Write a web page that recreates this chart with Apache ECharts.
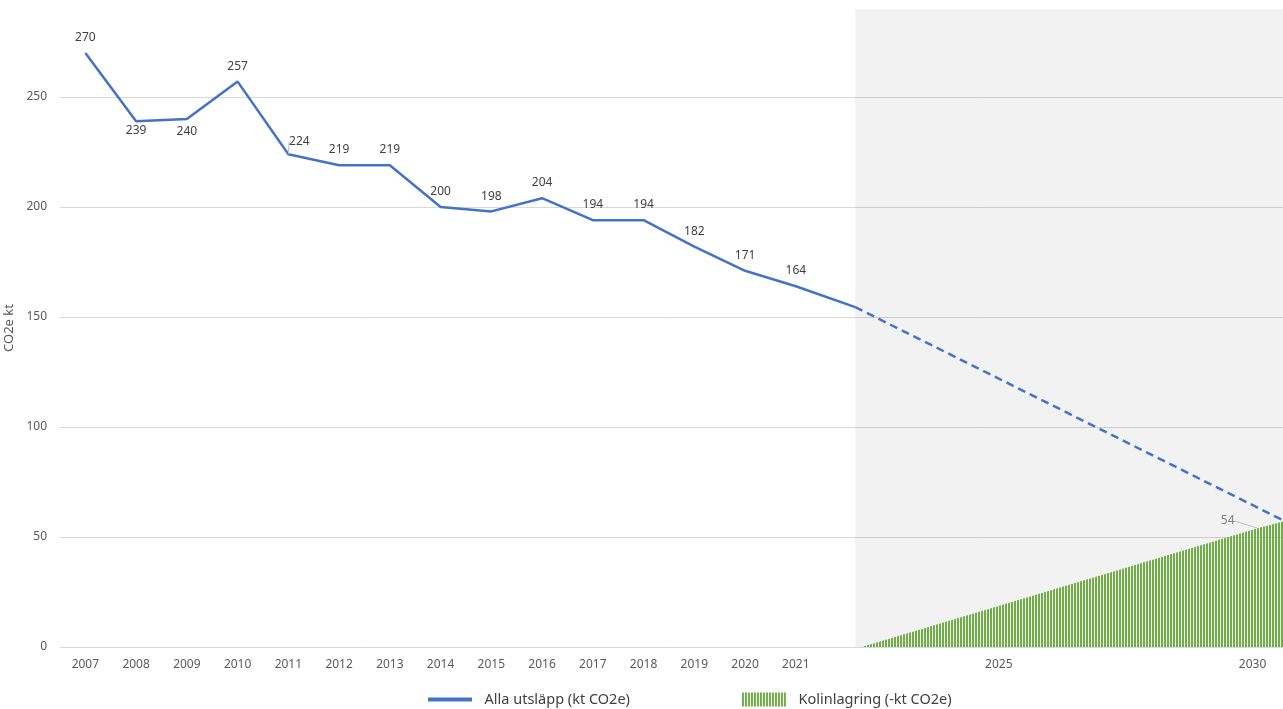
<!DOCTYPE html>
<html><head><meta charset="utf-8">
<script src="https://cdn.jsdelivr.net/npm/echarts@6/dist/echarts.min.js"></script>
<style>html,body{margin:0;padding:0;background:#fff}#c{width:1283px;height:709px}</style>
</head><body><div id="c"></div>
<script>
const years = [2007,2008,2009,2010,2011,2012,2013,2014,2015,2016,2017,2018,2019,2020,2021];
const emissions = [270,239,240,257,224,219,219,200,198,204,194,194,182,171,164];
const lastHistYear = 2022.17, lastHistValue = 154.5;
const projEndYear = 2030.6, projEndValue = 57.6;
const storageYears = [2022.3, 2030.1, 2030.6];
const storageValues = [0, 54, 57];
const xTickLabels = [2007,2008,2009,2010,2011,2012,2013,2014,2015,2016,2017,2018,2019,2020,2021,2025,2030];
const yTicks = [0,50,100,150,200,250];

const c = document.createElement('canvas');
c.width = 3; c.height = 4;
const cx = c.getContext('2d');
cx.fillStyle = '#70AD47'; cx.fillRect(0,0,2,4);
const stripes = {image: c, repeat: 'repeat'};

const font = 'Noto Sans, sans-serif';
const hist = years.map((y,i)=>{
  const d = {value:[y, emissions[i]]};
  if (y===2008) d.label = {position:'bottom', distance:3};
  if (y===2009) d.label = {position:'bottom', distance:6};
  if (y===2011) d.labelLine = {show:true};
  return d;
});
hist.push({value:[lastHistYear,lastHistValue], label:{show:false}});

const storage = storageYears.map((y,i)=>({value:[y,storageValues[i]], label:{show: y===2030.1}}));

const chart = echarts.init(document.getElementById('c'));
chart.setOption({
  animation:false,
  textStyle:{fontFamily:font},
  grid:{left:60,right:0,top:9,bottom:62, outerBoundsMode:'none'},
  legend:{
    left:423, top:687, itemGap:112, itemWidth:44, itemHeight:14,
    formatter: n => '  ' + n,
    textStyle:{fontSize:14.5,color:'#404040',fontFamily:font},
    data:[{name:'Alla utsläpp (kt CO2e)', icon:'path://M0,0 L44,0 L44,4 L0,4 Z', itemStyle:{color:'#4472C4'}},
          {name:'Kolinlagring (-kt CO2e)', icon:'rect', itemStyle:{color:stripes}}]
  },
  xAxis:{
    type:'value', min:2006.5, max:2030.6,
    axisLine:{show:false}, axisTick:{show:false}, splitLine:{show:false},
    axisLabel:{customValues:xTickLabels, color:'#595959', fontSize:12, margin:12, formatter:v=>String(v)}
  },
  yAxis:{
    type:'value', min:0, max:290, interval:50,
    name:'CO2e kt', nameLocation:'middle', nameGap:42, nameRotate:90,
    nameTextStyle:{color:'#595959',fontSize:13},
    axisLine:{show:false}, axisTick:{show:false},
    axisLabel:{color:'#595959',fontSize:12, margin:13, formatter:v=>yTicks.includes(v)?String(v):''},
    splitLine:{lineStyle:{color:['#d9d9d9','#d9d9d9','#d9d9d9','#d9d9d9','#d9d9d9','#d9d9d9','rgba(0,0,0,0)'],width:1}}
  },
  series:[
    {
      name:'Kolinlagring (-kt CO2e)', type:'line', data:storage, symbol:'circle', symbolSize:0.5, showSymbol:true,
      lineStyle:{width:0}, itemStyle:{color:stripes},
      areaStyle:{color:stripes, opacity:1},
      label:{show:true, position:'top', color:'#7f7f7f', fontSize:12},
      labelLayout:{dx:-30, dy:4},
      labelLine:{show:true, lineStyle:{color:'#bfbfbf',width:1}},
      markArea:{silent:true, itemStyle:{color:'rgba(0,0,0,0.05)'}, data:[[{xAxis:lastHistYear},{xAxis:projEndYear}]]},
      z:1
    },
    {
      name:'Alla utsläpp (kt CO2e)', type:'line', data:hist, symbol:'circle', symbolSize:0.5, showSymbol:true,
      lineStyle:{color:'#4472C4', width:2.5}, itemStyle:{color:'#4472C4'},
      label:{show:true, position:'top', distance:9, color:'#404040', fontSize:12},
      labelLayout:function(p){ return p.dataIndex===4 ? {dx:11, dy:3} : {}; },
      labelLine:{show:false, lineStyle:{color:'#bfbfbf',width:1}},
      z:3
    },
    {
      name:'Alla utsläpp (kt CO2e)', type:'line', data:[[lastHistYear,lastHistValue],[projEndYear,projEndValue]],
      symbol:'none', showSymbol:false,
      lineStyle:{color:'#4472C4', width:2.5, type:[8,5]}, itemStyle:{color:'#4472C4'}, z:3
    }
  ]
});
</script></body></html>
